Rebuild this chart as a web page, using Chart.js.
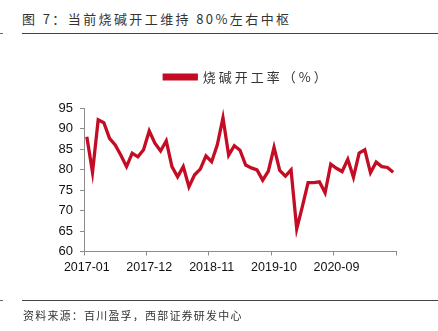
<!DOCTYPE html>
<html>
<head>
<meta charset="utf-8">
<script src="https://cdn.jsdelivr.net/npm/chart.js@4"></script>
<style>
  html, body { margin: 0; padding: 0; background: #fff; }
  body { width: 438px; height: 331px; position: relative; overflow: hidden; }
  #wrap { position: absolute; left: 0; top: 0; width: 438px; height: 331px; }
  .title { position: absolute; left: 22px; top: 9px; font: 13px "Noto Sans CJK SC", sans-serif; letter-spacing: 2.4px; color: #333; white-space: nowrap; }
  .source { position: absolute; left: 23px; top: 307px; font: 11px "Noto Sans CJK SC", sans-serif; letter-spacing: 1.2px; color: #333; white-space: nowrap; }
  .rule { position: absolute; left: 22px; right: 0; height: 1px; background: #444; }
  .dash { position: absolute; left: 0; width: 3px; height: 1px; background: #666; }
</style>
</head>
<body>
<div class="title">图 7：当前烧碱开工维持 80%左右中枢</div>
<div class="rule" style="top:33px"></div>
<div class="dash" style="top:33px"></div>
<div id="wrap"><canvas id="myChart" width="438" height="331"></canvas></div>
<div class="rule" style="top:300px"></div>
<div class="dash" style="top:300px"></div>
<div class="source">资料来源：百川盈孚，西部证券研发中心</div>
<script>
    // monthly categories, one label every 11 months
    const months = [
      '2017-01','2017-02','2017-03','2017-04','2017-05','2017-06','2017-07','2017-08','2017-09','2017-10','2017-11',
      '2017-12','2018-01','2018-02','2018-03','2018-04','2018-05','2018-06','2018-07','2018-08','2018-09','2018-10',
      '2018-11','2018-12','2019-01','2019-02','2019-03','2019-04','2019-05','2019-06','2019-07','2019-08','2019-09',
      '2019-10','2019-11','2019-12','2020-01','2020-02','2020-03','2020-04','2020-05','2020-06','2020-07','2020-08',
      '2020-09','2020-10','2020-11','2020-12','2021-01','2021-02','2021-03','2021-04','2021-05','2021-06','2021-07'
    ];
    const operatingRate = [
      88.0, 79.3, 92.1, 91.4, 87.6, 86.0, 83.5, 80.7, 84.0, 83.1, 84.8,
      89.4, 86.4, 84.5, 87.0, 80.7, 78.2, 80.7, 75.8, 78.7, 80.1, 83.3,
      81.9, 86.0, 92.6, 83.5, 85.8, 84.7, 81.1, 80.4, 79.9, 77.4, 79.6,
      85.4, 79.8, 78.4, 79.9, 65.5, 71.0, 76.8, 76.8, 77.0, 74.3, 81.3,
      80.3, 79.5, 82.5, 78.1, 84.0, 84.8, 79.2, 81.8, 80.7, 80.5, 79.3
    ];
    const seriesName = '烧碱开工率（%）';
    const labelEvery = 11;
    const yTicks = { min: 60, max: 95, step: 5 };

    const red = '#c40d25';
    const axisGrey = '#8c8c8c';

    // legend: center over plot area, spaced glyphs like the pdf
    const legendTweak = {
      id: 'legendTweak',
      beforeInit(chart) {
        const fit = chart.legend.fit;
        chart.legend.fit = function () {
          fit.call(this);
          this.height += 14.5;
        };
        const draw = chart.legend.draw;
        chart.legend.draw = function () {
          this.ctx.save();
          this.ctx.letterSpacing = '3px';
          draw.call(this);
          this.ctx.restore();
        };
      },
      afterLayout(chart) {
        chart.legend.left = chart.chartArea.left - 5;
        chart.legend.right = chart.chartArea.right - 5;
      }
    };

    const data = {
      labels: months,
      datasets: [{
        label: seriesName,
        data: operatingRate,
        borderColor: red,
        backgroundColor: red,
        borderWidth: 3.3,
        pointRadius: 0,
        tension: 0
      }]
    };

    const config = {
      type: 'line',
      data,
      plugins: [legendTweak],
      options: {
        responsive: false,
        animation: false,
        layout: { padding: { left: 0, right: 42, top: 60.5, bottom: 0 } },
        plugins: {
          legend: {
            position: 'top',
            labels: {
              boxWidth: 32,
              boxHeight: 3.5,
              padding: 10,
              color: '#333',
              font: { family: '"Noto Sans CJK SC", sans-serif', size: 13 }
            }
          },
          tooltip: { enabled: false }
        },
        scales: {
          x: {
            offset: true,
            afterFit: s => { s.height = 79.5; },
            grid: {
              offset: true,
              drawOnChartArea: false,
              tickLength: 4,
              color: ctx => (ctx.index === undefined || ctx.index % labelEvery === 0) ? axisGrey : 'rgba(0,0,0,0)'
            },
            border: { color: axisGrey, width: 1 },
            ticks: {
              autoSkip: false,
              maxRotation: 0,
              padding: 5,
              color: '#111',
              font: { family: '"Liberation Sans", Arial, sans-serif', size: 12.5 },
              callback: (v, i) => i % labelEvery === 0 ? months[i] : ''
            }
          },
          y: {
            min: yTicks.min,
            max: yTicks.max,
            afterFit: s => { s.width = 84; },
            grid: { drawOnChartArea: false, tickLength: 4, color: axisGrey },
            border: { color: axisGrey, width: 1 },
            ticks: {
              stepSize: yTicks.step,
              padding: 7,
              color: '#111',
              font: { family: '"Liberation Sans", Arial, sans-serif', size: 13 }
            }
          }
        }
      }
    };

    const myChart = new Chart(document.getElementById('myChart'), config);
</script>
</body>
</html>
